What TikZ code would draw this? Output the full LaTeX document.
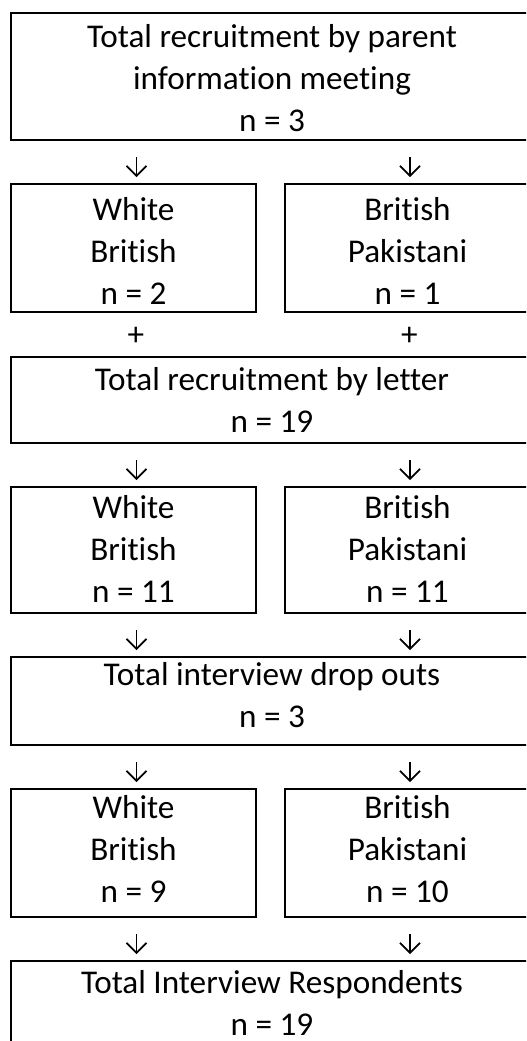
\documentclass[tikz,border=0pt]{standalone}
\usepackage{fontspec}
\setmainfont{Carlito}[Ligatures=NoCommon]
\usetikzlibrary{arrows.meta}
\begin{document}
\begin{tikzpicture}[x=0.5pt,y=-0.5pt,
  box/.style={draw=black, line width=1pt, rectangle, inner sep=0pt},
  wide/.style={box, minimum width=269.5pt},
  lhalf/.style={box, minimum width=122.5pt, minimum height=64pt},
  rhalf/.style={box, minimum width=130pt, minimum height=64pt},
  txt/.style={font=\fontsize{16.6}{21}\selectfont, align=center, inner sep=0pt, anchor=north},
  plus/.style={font=\fontsize{16.6}{21}\selectfont, inner sep=0pt},
  arr/.style={line width=0.85pt, -{Straight Barb[length=5pt,width=10pt]}, shorten <=8pt, shorten >=3pt},
]
\useasboundingbox (0,0) rectangle (526,1041);
\clip (0,0) rectangle (526,1041);

% boxes
\node[wide, minimum height=63.5pt] (b1) at (280.5,76.5) {};
\node[lhalf] (wb1) at (133.5,248) {};
\node[rhalf] (bp1) at (415,248) {};
\node[wide, minimum height=43pt] (let) at (280.5,400) {};
\node[lhalf, minimum height=63pt] (wb2) at (133.5,550) {};
\node[rhalf, minimum height=63pt] (bp2) at (415,550) {};
\node[wide, minimum height=44pt] (drop) at (280.5,701) {};
\node[lhalf] (wb3) at (133.5,853) {};
\node[rhalf] (bp3) at (415,853) {};
\node[wide, minimum height=64.5pt] (resp) at (280.5,1025.5) {};

% texts
\node[txt] (t1) at (272,17.6) {\strut Total recruitment by parent\\information meeting\\n = 3};
\node[txt] (twb1) at (133.5,190.6) {\strut White\\British\\n = 2};
\node[txt] (tbp1) at (407.5,190.6) {\strut British\\Pakistani\\n = 1};
\node[txt] (tlet) at (272,360.6) {\strut Total recruitment by letter\\n = 19};
\node[txt] (twb2) at (133.5,488.6) {\strut White\\British\\n = 11};
\node[txt] (tbp2) at (407.5,488.6) {\strut British\\Pakistani\\n = 11};
\node[txt] (tdrop) at (272,655.6) {\strut Total interview drop outs\\n = 3};
\node[txt] (twb3) at (133.5,788.6) {\strut White\\British\\n = 9};
\node[txt] (tbp3) at (407.5,788.6) {\strut British\\Pakistani\\n = 10};
\node[txt] (tresp) at (272,964) {\strut Total Interview Respondents\\n = 19};

% plus signs
\node[plus] (p1) at (136,336) {+};
\node[plus] (p2) at (409.5,336) {+};

% arrows
\draw[arr] ([xshift=1.5pt]wb1.north |- b1.south) -- ([xshift=1.5pt]wb1.north);
\draw[arr] ([xshift=1.25pt]tbp1.north |- b1.south) -- ([xshift=1.25pt]tbp1.north |- bp1.north);
\draw[arr] ([xshift=1.5pt]wb2.north |- let.south) -- ([xshift=1.5pt]wb2.north);
\draw[arr] ([xshift=1.25pt]tbp2.north |- let.south) -- ([xshift=1.25pt]tbp2.north |- bp2.north);
\draw[arr] ([xshift=1.5pt]wb2.south) -- ([xshift=1.5pt]wb2.south |- drop.north);
\draw[arr] ([xshift=1.25pt]tbp2.north |- bp2.south) -- ([xshift=1.25pt]tbp2.north |- drop.north);
\draw[arr] ([xshift=1.5pt]wb3.north |- drop.south) -- ([xshift=1.5pt]wb3.north);
\draw[arr] ([xshift=1.25pt]tbp3.north |- drop.south) -- ([xshift=1.25pt]tbp3.north |- bp3.north);
\draw[arr] ([xshift=1.5pt]wb3.south) -- ([xshift=1.5pt]wb3.south |- resp.north);
\draw[arr] ([xshift=1.25pt]tbp3.north |- bp3.south) -- ([xshift=1.25pt]tbp3.north |- resp.north);
\end{tikzpicture}
\end{document}
